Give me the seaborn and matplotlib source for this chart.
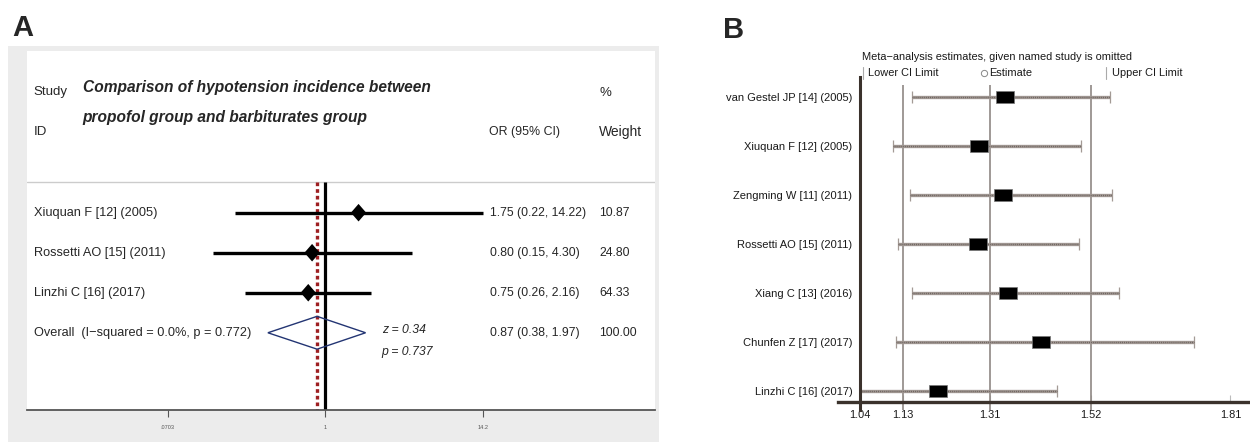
import numpy as np
import pandas as pd
import matplotlib
matplotlib.use("Agg")
import matplotlib.pyplot as plt
import seaborn as sns
from matplotlib.markers import MarkerStyle
from matplotlib.transforms import Affine2D, blended_transform_factory
from matplotlib.patches import Rectangle, Polygon
from matplotlib.lines import Line2D

# --- Panel A: forest plot (propofol vs barbiturates, hypotension) ---
studies_a = ["Xiuquan F [12] (2005)", "Rossetti AO [15] (2011)", "Linzhi C [16] (2017)"]
or_a = [1.75, 0.80, 0.75]
lo_a = [0.22, 0.15, 0.26]
hi_a = [14.22, 4.30, 2.16]
weight_a = [10.87, 24.80, 64.33]
overall_or = 0.87
overall_lo = 0.38
overall_hi = 1.97
overall_weight = 100.00
overall_label = "Overall  (I\u2212squared = 0.0%, p = 0.772)"
z_label = "z = 0.34"
p_label = "p = 0.737"
ticks_a = [0.0703, 1, 14.2]
ticklabels_a = [".0703", "1", "14.2"]
title_a = ["Comparison of hypotension incidence between",
           "propofol group and barbiturates group"]

# --- Panel B: sensitivity analysis (study omitted) ---
studies_b = ["van Gestel JP [14] (2005)", "Xiuquan F [12] (2005)", "Zengming W [11] (2011)",
             "Rossetti AO [15] (2011)", "Xiang C [13] (2016)", "Chunfen Z [17] (2017)",
             "Linzhi C [16] (2017)"]
est_b = [1.341, 1.287, 1.338, 1.286, 1.348, 1.416, 1.202]
lo_b = [1.149, 1.109, 1.144, 1.120, 1.149, 1.115, 1.041]
hi_b = [1.559, 1.499, 1.563, 1.495, 1.579, 1.735, 1.449]
ref_b = [1.13, 1.31, 1.52]
ticks_b = [1.04, 1.13, 1.31, 1.52, 1.81]

sns.set_theme(style="white")
plt.rcParams["font.family"] = ["Liberation Sans", "DejaVu Sans"]

W, H = 1250, 442
fig = plt.figure(figsize=(W / 100, H / 100), dpi=100)
fig.patch.set_facecolor("white")


def px_rect(x0, y0, x1, y1):
    # pixel box (top-left origin) -> figure fraction
    return [x0 / W, 1 - y1 / H, (x1 - x0) / W, (y1 - y0) / H]


def fx(x):
    return x / W


def fy(y):
    return 1 - y / H


# ============ Panel A ============
fig.add_artist(Rectangle((fx(8), 0), (659 - 8) / W, (H - 46) / H, transform=fig.transFigure,
                         facecolor="#ececec", edgecolor="none", zorder=-5))
axA = fig.add_axes(px_rect(27, 51, 655, 410))
axA.set_facecolor("white")

dfA = pd.DataFrame({"study": studies_a, "or": or_a, "lo": lo_a, "hi": hi_a,
                    "w": weight_a, "row": np.arange(len(studies_a))})
row_overall = len(studies_a)

axA.set_xscale("log")
axA.hlines(dfA["row"], dfA["lo"], dfA["hi"], color="black", lw=2.4, zorder=3)
diamond = MarkerStyle("D", transform=Affine2D().scale(0.87, 1.0))
sns.scatterplot(data=dfA, x="or", y="row", marker=diamond, s=80, color="black",
                edgecolor="none", ax=axA, zorder=4, legend=False)

axA.add_patch(Polygon([(overall_lo, row_overall), (overall_or, row_overall - 0.41),
                       (overall_hi, row_overall), (overall_or, row_overall + 0.41)],
                      closed=True, fill=False, edgecolor="#233573", lw=1.0, zorder=5))

y_sep = -0.76
axA.vlines(1, y_sep, 4.93, color="black", lw=2.3, zorder=2)
axA.vlines(overall_or, y_sep, 4.93, color="#9e1f22", lw=2.4, zorder=2,
           linestyles=[(0, (1.1, 0.9))])
axA.axhline(y_sep, color="#cccccc", lw=1.0, zorder=1)

axA.set_xlim(0.00656, 258.5)
axA.set_ylim(4.93, -4.04)
axA.set_xlabel("")
axA.set_ylabel("")
axA.set_yticks([])
axA.set_xticks(ticks_a)
axA.set_xticklabels(ticklabels_a)
axA.minorticks_off()
axA.tick_params(axis="x", direction="out", length=5, width=0.8, color="#555555",
                labelsize=4, labelcolor="#555555", pad=6, bottom=True)
for s in ["top", "right", "left"]:
    axA.spines[s].set_visible(False)
axA.spines["bottom"].set_color("#555555")
axA.spines["bottom"].set_linewidth(1.3)

tA = blended_transform_factory(axA.transAxes, axA.transData)
fsA = 9.2
fsNum = 8.8
axA.text(0.011, -3.02, "Study", transform=tA, fontsize=9.5, va="center")
axA.text(0.011, -2.02, "ID", transform=tA, fontsize=9.5, va="center")
axA.text(0.0887, -3.12, title_a[0], transform=tA, fontsize=11.2, va="center",
         fontweight="bold", fontstyle="italic")
axA.text(0.0887, -2.39, title_a[1], transform=tA, fontsize=11.2, va="center",
         fontweight="bold", fontstyle="italic")
axA.text(0.911, -3.0, "%", transform=tA, fontsize=9.5, va="center")
axA.text(0.7357, -2.02, "OR (95% CI)", transform=tA, fontsize=8.9, va="center")
axA.text(0.911, -2.02, "Weight", transform=tA, fontsize=10, va="center")

for _, r in dfA.iterrows():
    axA.text(0.011, r["row"], r["study"], transform=tA, fontsize=fsA, va="center")
    axA.text(0.738, r["row"], f"{r['or']:.2f} ({r['lo']:.2f}, {r['hi']:.2f})",
             transform=tA, fontsize=fsNum, va="center")
    axA.text(0.911, r["row"], f"{r['w']:.2f}", transform=tA, fontsize=fsNum, va="center")

axA.text(0.011, row_overall, overall_label, transform=tA, fontsize=fsA, va="center")
axA.text(0.738, row_overall, f"{overall_or:.2f} ({overall_lo:.2f}, {overall_hi:.2f})",
         transform=tA, fontsize=fsNum, va="center")
axA.text(0.911, row_overall, f"{overall_weight:.2f}", transform=tA, fontsize=fsNum,
         va="center")
axA.text(0.5648, row_overall - 0.07, z_label, transform=tA, fontsize=8.8, va="center",
         fontstyle="italic")
axA.text(0.5648, row_overall + 0.47, p_label, transform=tA, fontsize=8.8, va="center",
         fontstyle="italic")

fig.text(fx(12), fy(28), "A", fontsize=21, fontweight="bold", va="center", ha="left")

# ============ Panel B ============
axB = fig.add_axes(px_rect(838, 77, 1250, 410))
axB.set_facecolor("white")
dfB = pd.DataFrame({"study": studies_b, "est": est_b, "lo": lo_b, "hi": hi_b,
                    "row": np.arange(len(studies_b))})

axB.vlines(ref_b, -0.245, 6.4, color="#8f8884", lw=1.2, zorder=1)
axB.errorbar(dfB["est"], dfB["row"],
             xerr=[dfB["est"] - dfB["lo"], dfB["hi"] - dfB["est"]],
             fmt="none", ecolor="#a39a95", elinewidth=2.4, capsize=4, capthick=0.9, zorder=2)
axB.hlines(dfB["row"], dfB["lo"], dfB["hi"], color="#6e6460", lw=1.0,
           linestyles=[(0, (0.7, 0.7))], zorder=2)
box = MarkerStyle("s", transform=Affine2D().scale(1.42, 1.0))
sns.scatterplot(data=dfB, x="est", y="row", marker=box, s=76, color="black",
                edgecolor="#777777", linewidth=0.5, ax=axB, zorder=4, legend=False)

axB.set_xlim(0.9943, 1.8508)
axB.set_ylim(6.394, -0.409)
axB.set_xlabel("")
axB.set_ylabel("")
axB.set_yticks(dfB["row"])
axB.set_yticklabels(studies_b)
axB.set_xticks(ticks_b)
axB.set_xticklabels([f"{t:.2f}" for t in ticks_b])
axB.tick_params(axis="y", length=0, pad=5.5, labelsize=8.0, labelcolor="#1a1a1a")
axB.tick_params(axis="x", direction="in", length=5, width=0.8, color="#bbbbbb", pad=6,
                bottom=True, labelsize=7.9, labelcolor="#1a1a1a")
axB.spines["top"].set_visible(False)
axB.spines["right"].set_visible(False)
axB.spines["left"].set_position(("data", 1.04))
axB.spines["left"].set_color("#3b322c")
axB.spines["left"].set_linewidth(2.2)
axB.spines["bottom"].set_position(("axes", 8 / 333))
axB.spines["bottom"].set_color("#3b322c")
axB.spines["bottom"].set_linewidth(2.4)

# legend header of the influence plot
fsB = 7.9
fig.text(fx(862.5), fy(57), "Meta\u2212analysis estimates, given named study is omitted",
         fontsize=fsB, va="center", ha="left", color="#1a1a1a")
fig.add_artist(Line2D([fx(863), fx(863)], [fy(67), fy(79)], color="#aaaaaa", lw=0.8,
                      transform=fig.transFigure))
fig.text(fx(868), fy(73), "Lower CI Limit", fontsize=fsB, va="center", ha="left",
         color="#1a1a1a")
fig.add_artist(Line2D([fx(983.5)], [fy(73)], marker="o", markersize=4.5, markerfacecolor="white",
                      markeredgecolor="#888888", markeredgewidth=0.7, linestyle="none",
                      transform=fig.transFigure))
fig.text(fx(989), fy(73), "Estimate", fontsize=fsB, va="center", ha="left", color="#1a1a1a")
fig.add_artist(Line2D([fx(1106), fx(1106)], [fy(67), fy(79)], color="#aaaaaa", lw=0.8,
                      transform=fig.transFigure))
fig.text(fx(1112), fy(73), "Upper CI Limit", fontsize=fsB, va="center", ha="left",
         color="#1a1a1a")

fig.text(fx(723), fy(30), "B", fontsize=21, fontweight="bold", va="center", ha="left")

fig.savefig("out.png", dpi=100, facecolor="white")
